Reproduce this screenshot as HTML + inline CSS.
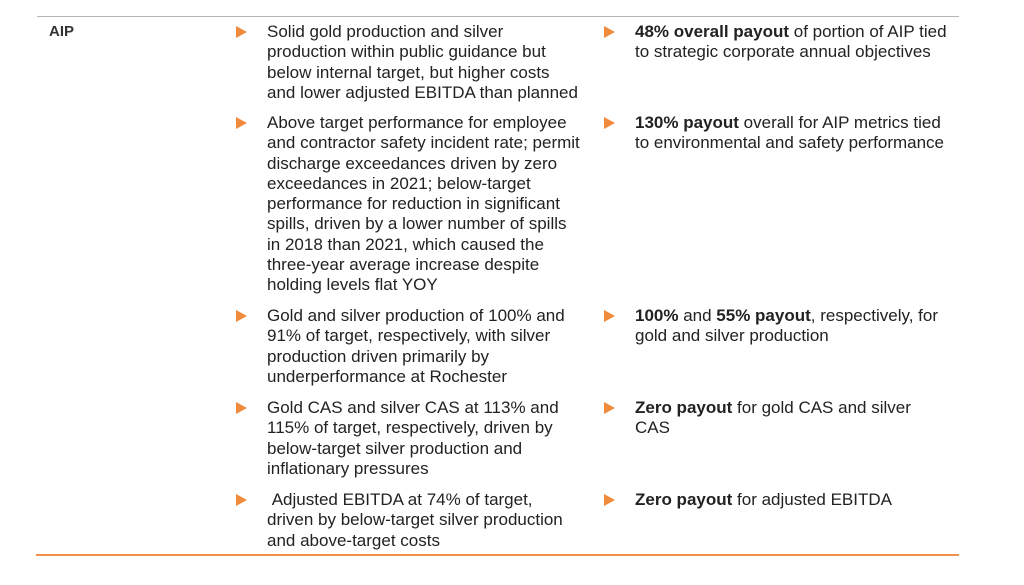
<!DOCTYPE html>
<html><head><meta charset="utf-8"><style>
body{margin:0;width:1024px;height:585px;background:#fff;position:relative;overflow:hidden;font-family:"Liberation Sans",Arial,sans-serif;font-size:17px;color:#222;}
.t{position:absolute;line-height:20.3px;white-space:nowrap;}
.b{position:absolute;width:0;height:0;border-top:6px solid transparent;border-bottom:6px solid transparent;border-left:11px solid #f08a3c;}
b{font-weight:bold;}
</style></head><body>
<div style="position:absolute;left:37px;top:16px;width:922px;height:1px;background:#b0b6bc"></div>
<div style="position:absolute;left:36px;top:554px;width:923px;height:2px;background:#f0904a"></div>
<div class="t" style="left:49px;top:22px;font-weight:bold;color:#333;font-size:15px">AIP</div>

<div class="b" style="left:236px;top:26px"></div>
<div class="t" style="left:267px;top:22px">Solid gold production and silver<br>production within public guidance but<br>below internal target, but higher costs<br>and lower adjusted EBITDA than planned</div>
<div class="b" style="left:604px;top:26px"></div>
<div class="t" style="left:635px;top:22px"><b>48% overall payout</b> of portion of AIP tied<br>to strategic corporate annual objectives</div>

<div class="b" style="left:236px;top:117px"></div>
<div class="t" style="left:267px;top:113px">Above target performance for employee<br>and contractor safety incident rate; permit<br>discharge exceedances driven by zero<br>exceedances in 2021; below-target<br>performance for reduction in significant<br>spills, driven by a lower number of spills<br>in 2018 than 2021, which caused the<br>three-year average increase despite<br>holding levels flat YOY</div>
<div class="b" style="left:604px;top:117px"></div>
<div class="t" style="left:635px;top:113px"><b>130% payout</b> overall for AIP metrics tied<br>to environmental and safety performance</div>

<div class="b" style="left:236px;top:310px"></div>
<div class="t" style="left:267px;top:306px">Gold and silver production of 100% and<br>91% of target, respectively, with silver<br>production driven primarily by<br>underperformance at Rochester</div>
<div class="b" style="left:604px;top:310px"></div>
<div class="t" style="left:635px;top:306px"><b>100%</b> and <b>55% payout</b>, respectively, for<br>gold and silver production</div>

<div class="b" style="left:236px;top:402px"></div>
<div class="t" style="left:267px;top:398px">Gold CAS and silver CAS at 113% and<br>115% of target, respectively, driven by<br>below-target silver production and<br>inflationary pressures</div>
<div class="b" style="left:604px;top:402px"></div>
<div class="t" style="left:635px;top:398px"><b>Zero payout</b> for gold CAS and silver<br>CAS</div>

<div class="b" style="left:236px;top:494px"></div>
<div class="t" style="left:267px;top:490px">&nbsp;Adjusted EBITDA at 74% of target,<br>driven by below-target silver production<br>and above-target costs</div>
<div class="b" style="left:604px;top:494px"></div>
<div class="t" style="left:635px;top:490px"><b>Zero payout</b> for adjusted EBITDA</div>
</body></html>
